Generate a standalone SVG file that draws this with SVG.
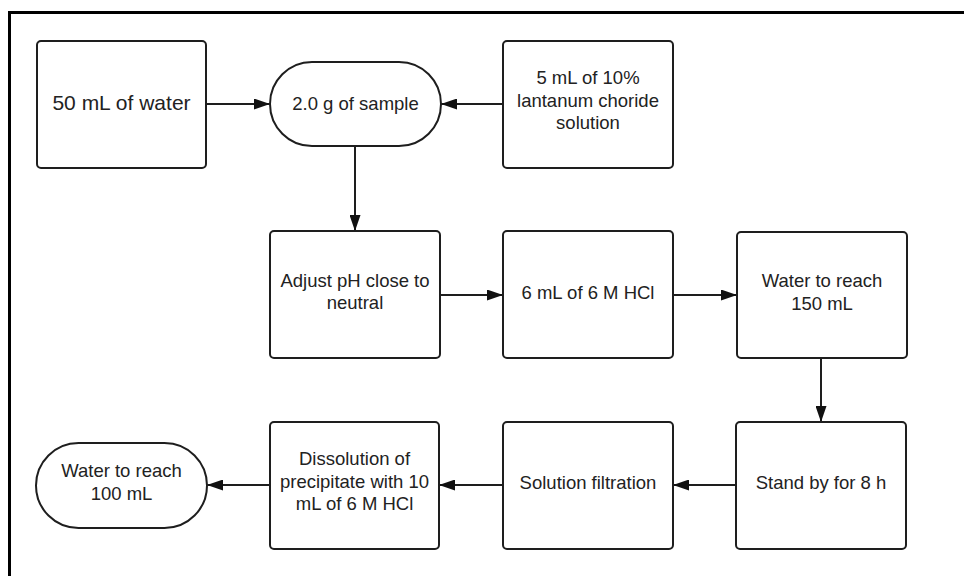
<svg xmlns="http://www.w3.org/2000/svg" width="964" height="576" viewBox="0 0 964 576">
<style>
.box{fill:#fff;stroke:#1e1e1e;stroke-width:2}
.t{font-family:"Liberation Sans",Arial,sans-serif;font-size:18.5px;fill:#222;text-anchor:middle}
.big{font-size:21px}
.c{fill:none;stroke:#1e1e1e;stroke-width:2}
</style>
<defs>
<marker id="ah" markerUnits="userSpaceOnUse" markerWidth="16" markerHeight="11" refX="16" refY="5.5" orient="auto">
<path d="M0,0 L16,5.5 L0,11 z" fill="#111"/>
</marker>
</defs>
<rect width="964" height="576" fill="#fff"/>
<path d="M9.5,576 V12.5 H964" fill="none" stroke="#000" stroke-width="3"/>
<g id="connectors">
<line class="c" x1="206" y1="104" x2="270" y2="104" marker-end="url(#ah)"/>
<line class="c" x1="503" y1="104" x2="441" y2="104" marker-end="url(#ah)"/>
<line class="c" x1="355" y1="146" x2="355" y2="231" marker-end="url(#ah)"/>
<line class="c" x1="440" y1="295" x2="503" y2="295" marker-end="url(#ah)"/>
<line class="c" x1="673" y1="295" x2="737" y2="295" marker-end="url(#ah)"/>
<line class="c" x1="821" y1="358" x2="821" y2="422" marker-end="url(#ah)"/>
<line class="c" x1="736" y1="485" x2="673" y2="485" marker-end="url(#ah)"/>
<line class="c" x1="503" y1="485" x2="439" y2="485" marker-end="url(#ah)"/>
<line class="c" x1="270" y1="485" x2="207" y2="485" marker-end="url(#ah)"/>
</g>
<g id="water50">
<rect class="box" x="37" y="41" width="169" height="127" rx="4"/>
<text class="t big" x="121.5" y="110">50 mL of water</text>
</g>
<g id="sample">
<rect class="box" x="270" y="62" width="171" height="84" rx="42"/>
<text class="t" x="355.5" y="110">2.0 g of sample</text>
</g>
<g id="lanthanum">
<rect class="box" x="503" y="41" width="170" height="127" rx="4"/>
<text class="t" x="588" y="84">5 mL of 10%</text>
<text class="t" x="588" y="107">lantanum choride</text>
<text class="t" x="588" y="129">solution</text>
</g>
<g id="adjust">
<rect class="box" x="270" y="231" width="170" height="127" rx="4"/>
<text class="t" x="355" y="287">Adjust pH close to</text>
<text class="t" x="355" y="309">neutral</text>
</g>
<g id="hcl6">
<rect class="box" x="503" y="231" width="170" height="127" rx="4"/>
<text class="t" x="588" y="299">6 mL of 6 M HCl</text>
</g>
<g id="water150">
<rect class="box" x="737" y="232" width="170" height="126" rx="4"/>
<text class="t" x="822" y="287">Water to reach</text>
<text class="t" x="822" y="310">150 mL</text>
</g>
<g id="stand">
<rect class="box" x="736" y="422" width="170" height="127" rx="4"/>
<text class="t" x="821" y="489">Stand by for 8 h</text>
</g>
<g id="filtration">
<rect class="box" x="503" y="422" width="170" height="127" rx="4"/>
<text class="t" x="588" y="489">Solution filtration</text>
</g>
<g id="dissolution">
<rect class="box" x="270" y="422" width="169" height="127" rx="4"/>
<text class="t" x="354.5" y="465">Dissolution of</text>
<text class="t" x="354.5" y="488">precipitate with 10</text>
<text class="t" x="354.5" y="510">mL of 6 M HCl</text>
</g>
<g id="water100">
<rect class="box" x="36" y="443" width="171" height="85" rx="42.5"/>
<text class="t" x="121.5" y="477">Water to reach</text>
<text class="t" x="121.5" y="500">100 mL</text>
</g>
</svg>
